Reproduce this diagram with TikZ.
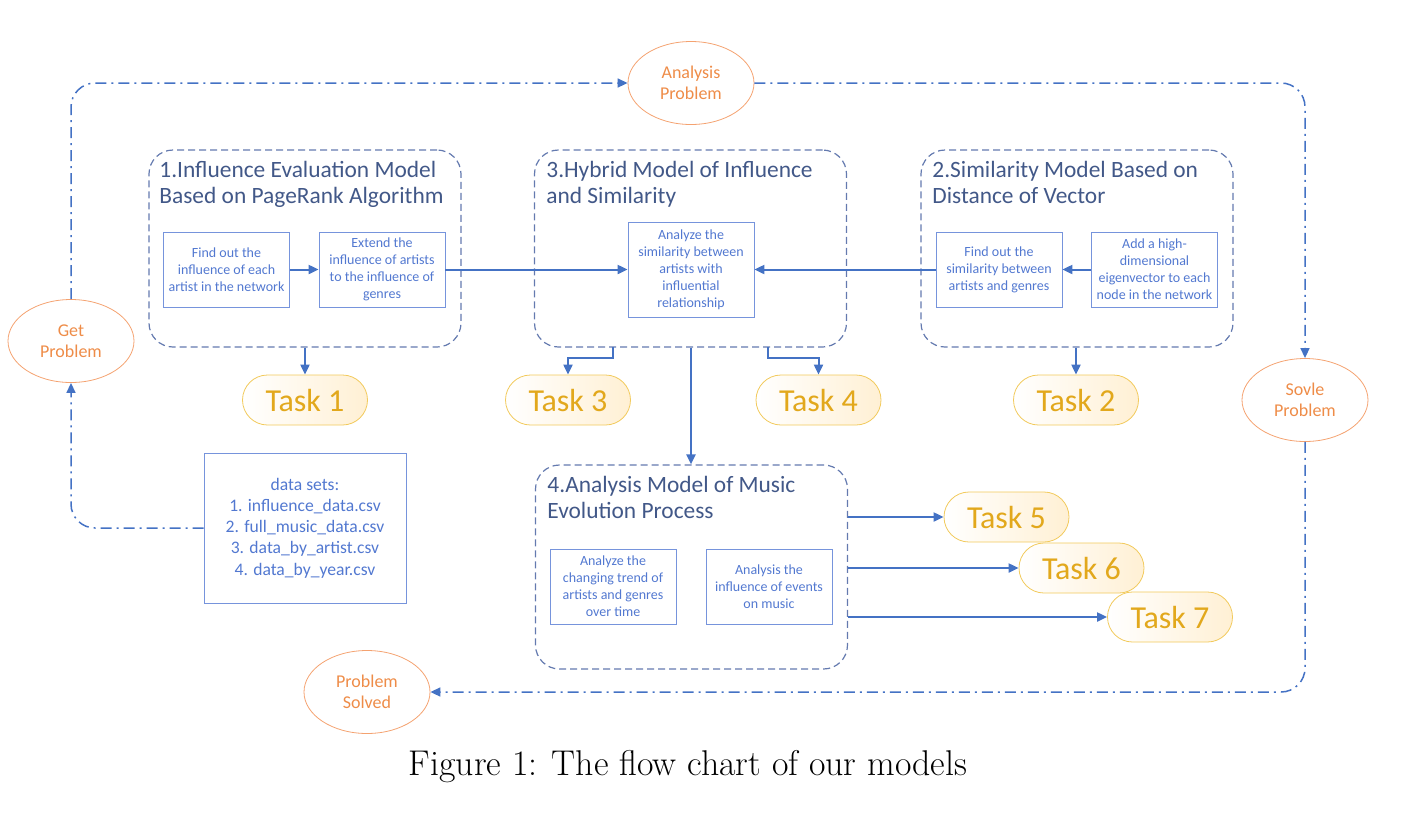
\documentclass[tikz,border=0pt]{standalone}
\usepackage{fontspec}
\usetikzlibrary{shapes.geometric, arrows.meta}
\newfontfamily\calibri{Carlito}
\definecolor{linkblue}{RGB}{68,114,196}
\definecolor{modelline}{RGB}{100,122,175}
\definecolor{titleblue}{RGB}{66,88,136}
\definecolor{subline}{RGB}{118,148,220}
\definecolor{subtext}{RGB}{82,120,208}
\definecolor{ellipline}{RGB}{244,162,112}
\definecolor{elliptext}{RGB}{238,140,72}
\definecolor{taskline}{RGB}{242,202,92}
\definecolor{taskfill}{RGB}{255,240,212}
\definecolor{tasktext}{RGB}{226,168,28}

\begin{document}
\begin{tikzpicture}[x=0.5pt, y=-0.5pt,
    ellip/.style = {draw=ellipline, ellipse, minimum width=63pt, minimum height=41.5pt, inner sep=0pt, text=elliptext, align=center, font=\calibri\fontsize{9}{10.3}\selectfont},
    model/.style = {draw=modelline, line width=0.6pt, dash pattern=on 3.5pt off 2pt, rounded corners=12pt, minimum width=156pt, minimum height=98.5pt, inner sep=0pt},
    modeltitle/.style = {anchor=north west, inner sep=0pt, text=titleblue, align=left, font=\calibri\fontsize{11.7}{13}\selectfont},
    subbox/.style = {draw=subline, minimum width=63pt, minimum height=37.5pt, inner sep=0pt, text=subtext, align=center, font=\calibri\fontsize{7}{8.5}\selectfont},
    task/.style = {draw=taskline, left color=white, right color=taskfill, rounded corners=12.5pt, minimum width=62.5pt, minimum height=25pt, inner sep=0pt, text=tasktext, font=\calibri\fontsize{16}{18}\selectfont},
    cycleline/.style = {linkblue, line width=0.75pt, dash pattern=on 5.5pt off 2.5pt on 1pt off 2.5pt, rounded corners=12pt, -{Triangle[length=5pt, width=4.5pt]}},
    arr/.style = {linkblue, line width=1pt, -{Triangle[length=5pt, width=4.5pt]}}]
    \useasboundingbox (0,0) rectangle (1426,832);

    % models
    \node[model] (m1) at (305,248.5) {};
    \node[model] (m3) at (690.5,248.5) {};
    \node[model] (m2) at (1077,248.5) {};
    \node[model, minimum height=102pt] (m4) at (691.5,567) {};
    \node[modeltitle] (m1t) at (159,161) {1.Influence Evaluation Model\\Based on PageRank Algorithm};
    \node[modeltitle] (m3t) at (546,161) {3.Hybrid Model of Influence\\and Similarity};
    \node[modeltitle] (m2t) at (932,161) {2.Similarity Model Based on\\Distance of Vector};
    \node[modeltitle] (m4t) at (547,476) {4.Analysis Model of Music\\Evolution Process};

    % steps inside the models
    \node[subbox] (a1) at (226.5,269.5) {Find out the\\influence of each\\artist in the network};
    \node[subbox] (a2) at (382,269.5) {Extend the\\influence of artists\\to the influence of\\genres};
    \node[subbox, minimum height=47.5pt] (c) at (691,269.5) {Analyze the\\similarity between\\artists with\\influential\\relationship};
    \node[subbox] (d) at (999,269.5) {Find out the\\similarity between\\artists and genres};
    \node[subbox] (e) at (1154.5,269.5) {Add a high-\\dimensional\\eigenvector to each\\node in the network};
    \node[subbox] (f) at (613,586.5) {Analyze the\\changing trend of\\artists and genres\\over time};
    \node[subbox] (g) at (769,586.5) {Analysis the\\influence of events\\on music};

    % data
    \node[draw=subline, minimum width=101pt, minimum height=75pt, inner sep=0pt, text=subtext, align=center, font=\calibri\fontsize{8.8}{10.6}\selectfont] (ds) at (305,528) {data sets:\\1. influence\_data.csv\\2. full\_music\_data.csv\\3. data\_by\_artist.csv\\4. data\_by\_year.csv};

    % tasks
    \node[task] (t1) at (305,400) {Task 1};
    \node[task] (t3) at (568,400) {Task 3};
    \node[task] (t4) at (818.5,400) {Task 4};
    \node[task] (t2) at (1076,400) {Task 2};
    \node[task] (t5) at (1006.5,517) {Task 5};
    \node[task] (t6) at (1081.5,568) {Task 6};
    \node[task] (t7) at (1170,617) {Task 7};

    % problem cycle
    \node[ellip] (gp) at (71,341) {Get\\Problem};
    \node[ellip] (ap) at (691,83) {Analysis\\Problem};
    \node[ellip] (sp) at (1305,400) {Sovle\\Problem};
    \node[ellip] (ps) at (367,692) {Problem\\Solved};

    \draw[cycleline] (gp.north) |- (ap.west);
    \draw[cycleline] (ap.east) -| (sp.north);
    \draw[cycleline] (sp.south) |- (ps.east);
    \draw[cycleline] (ds.west) -| (gp.south);

    % connections
    \path [arr] (a1) edge (a2);
    \path [arr] (a2) edge (c);
    \path [arr] (e) edge (d);
    \path [arr] (d) edge (c);
    \path [arr] (m1.south) edge (t1.north);
    \path [arr] (m2.south -| t2) edge (t2.north);
    \coordinate (t3a) at (613,347);
    \coordinate (t4a) at (768,347);
    \draw[arr] (t3a) -- ++(0,11) -| (t3.north);
    \draw[arr] (t4a) -- ++(0,11) -| (t4.north);
    \path [arr] (m3.south -| c) edge (m4.north -| c);
    \path [arr] (m4.east |- t5) edge (t5.west);
    \path [arr] (m4.east |- t6) edge (t6.west);
    \path [arr] (m4.east |- t7) edge (t7.west);

    \node[font=\fontsize{17.9}{20}\selectfont] (cap) at (688,767) {Figure 1: The flow chart of our models};
\end{tikzpicture}
\end{document}
